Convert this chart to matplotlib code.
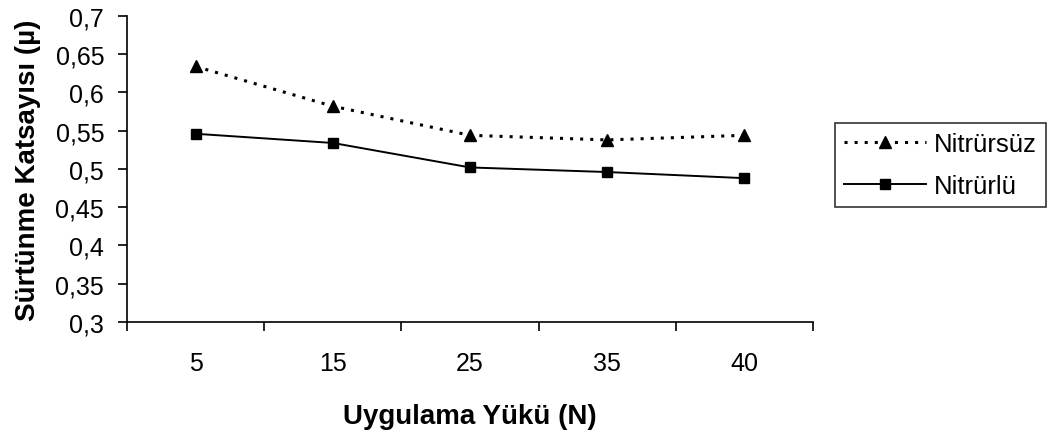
import matplotlib.pyplot as plt
from matplotlib.ticker import FixedLocator, FuncFormatter

plt.rcParams['font.family'] = ['Liberation Sans', 'DejaVu Sans']

yukler = ['5', '15', '25', '35', '40']
nitrursuz = [0.634, 0.582, 0.544, 0.538, 0.544]
nitrurlu = [0.546, 0.534, 0.502, 0.496, 0.488]

fig = plt.figure(figsize=(10.57, 4.35), dpi=100)
ax = fig.add_axes([0.1202, 0.2575, 0.649, 0.7035])

x = range(len(yukler))
ax.plot(x, nitrursuz, color='black', linestyle=(0, (1.0, 2.3)), linewidth=2.2,
        marker='^', markersize=9, label='Nitrürsüz')
ax.plot(x, nitrurlu, color='black', linestyle='-', linewidth=1.4,
        marker='s', markersize=7.5, label='Nitrürlü')

ax.set_xlim(-0.5, len(yukler) - 0.5)
ax.set_ylim(0.3, 0.7)
ax.xaxis.set_major_locator(FixedLocator([i - 0.5 for i in range(len(yukler) + 1)]))
ax.xaxis.set_minor_locator(FixedLocator(list(x)))
ax.xaxis.set_major_formatter(FuncFormatter(lambda v, p: ''))
ax.xaxis.set_minor_formatter(FuncFormatter(lambda v, p: yukler[int(round(v))]))
ax.tick_params(axis='x', which='major', direction='out', length=6.5, width=1.2)
ax.tick_params(axis='x', which='minor', length=0, pad=21, labelsize=18)
ax.set_yticks([0.3 + 0.05 * i for i in range(9)])
ax.yaxis.set_major_formatter(FuncFormatter(lambda v, p: ('%g' % round(v, 2)).replace('.', ',')))
ax.tick_params(axis='y', direction='out', length=6.5, width=1.2, labelsize=18, pad=10)

for s in ['top', 'right']:
    ax.spines[s].set_visible(False)
for s in ['left', 'bottom']:
    ax.spines[s].set_linewidth(1.2)

ax.set_xlabel('Uygulama Yükü (N)', fontsize=20, fontweight='bold', labelpad=20)
ax.set_ylabel('Sürtünme Katsayısı (µ)', fontsize=20, fontweight='bold', labelpad=10)

leg = fig.legend(loc='upper left', bbox_to_anchor=(835 / 1057, 1 - 124 / 435), fontsize=18.5,
                 frameon=True, fancybox=False, edgecolor='black', handlelength=3.2,
                 handletextpad=0.3, borderpad=0.35, borderaxespad=0, labelspacing=0.7)
leg.get_frame().set_linewidth(1.2)

fig.savefig('out.png', dpi=100)
